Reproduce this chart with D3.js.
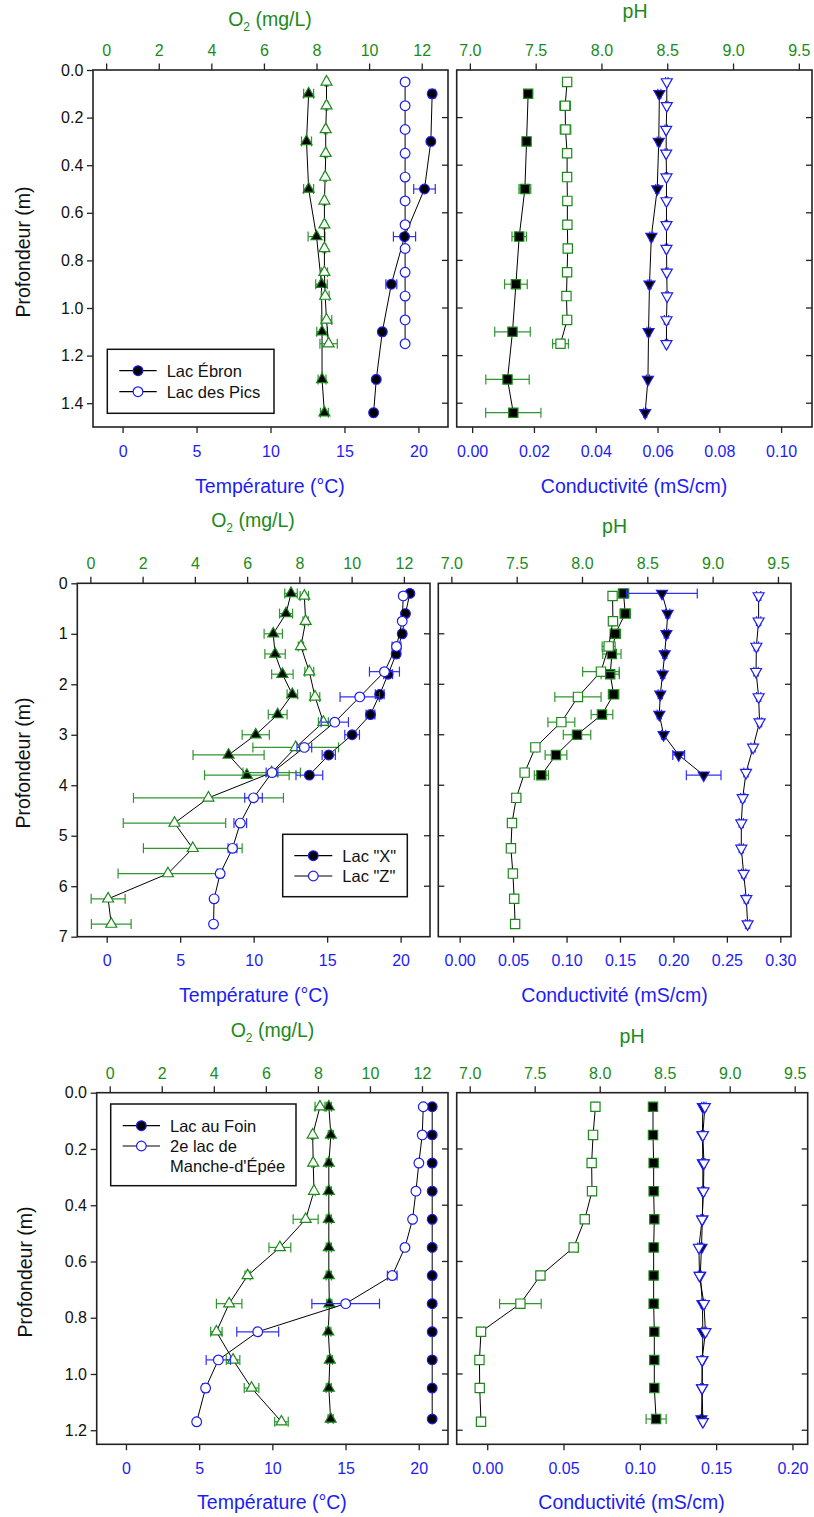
<!DOCTYPE html>
<html><head><meta charset="utf-8">
<script src="https://cdn.jsdelivr.net/npm/d3@7"></script>
<style>
body{margin:0;background:#fff}
svg{display:block}
text{font-family:"Liberation Sans",Arial,Helvetica,sans-serif}
</style>
</head><body>
<svg id="c" width="814" height="1517"></svg>
<script>
// ---------------- DATA ----------------
// Row 1 : Lac Ébron (A) / Lac des Pics (B)
const p1_depthA = [0.1,0.3,0.5,0.7,0.9,1.1,1.3,1.44];
const p1_depthB = [0.05,0.15,0.25,0.35,0.45,0.55,0.65,0.75,0.85,0.95,1.05,1.15];
const p1_tempA = [20.93,20.84,20.41,19.06,18.17,17.56,17.15,16.97];
const p1_tempA_err = [0.2,0.15,0.73,0.75,0.37,0.15,0.15,0.15];
const p1_tempB = [19.1,19.1,19.1,19.1,19.1,19.1,19.1,19.1,19.1,19.1,19.1,19.1];
const p1_tempB_err = [0,0,0,0,0,0,0,0,0,0,0,0];
const p1_o2A = [7.70,7.62,7.70,8.00,8.19,8.21,8.21,8.30];
const p1_o2A_err = [0.19,0.19,0.19,0.32,0.22,0.2,0.15,0.15];
const p1_o2B = [8.38,8.38,8.35,8.35,8.33,8.30,8.30,8.30,8.30,8.33,8.38,8.46];
const p1_o2B_err = [0.05,0.05,0.05,0.05,0.05,0.05,0.05,0.05,0.12,0.15,0.2,0.33];
const p1_phA = [7.443,7.431,7.418,7.375,7.350,7.324,7.286,7.33];
const p1_phA_err = [0.02,0.02,0.045,0.055,0.086,0.135,0.165,0.21];
const p1_phB = [7.739,7.724,7.727,7.739,7.739,7.741,7.741,7.744,7.739,7.734,7.739,7.689];
const p1_phB_err = [0.01,0.04,0.04,0.01,0.01,0.01,0.01,0.01,0.01,0.01,0.01,0.06];
const p1_condA = [0.0606,0.0604,0.0599,0.0580,0.0574,0.0571,0.0569,0.0560];
const p1_condA_err = [0.0005,0.0005,0.0005,0.0005,0.0005,0.0005,0.0005,0.0005];
const p1_condB = [0.0630,0.0630,0.0628,0.0628,0.0629,0.0629,0.0629,0.0629,0.0630,0.0631,0.0629,0.0629];
const p1_condB_err = [0.0004,0.0004,0.0004,0.0004,0.0004,0.0004,0.0004,0.0004,0.0004,0.0004,0.0007,0.0004];

// Row 2 : Lac "X" (A) / Lac "Z" (B)
const p2_depthA = [0.2,0.6,1.0,1.4,1.8,2.2,2.6,3.0,3.4,3.8];
const p2_depthB = [0.25,0.75,1.25,1.75,2.25,2.75,3.25,3.75,4.25,4.75,5.25,5.75,6.25,6.75];
const p2_tempA = [20.63,20.33,20.11,19.70,19.15,18.58,17.95,16.70,15.11,13.79];
const p2_tempA_err = [0.1,0.1,0.15,0.2,0.3,0.3,0.3,0.5,0.45,0.91];
const p2_tempB = [20.18,20.11,19.72,18.90,17.22,15.52,13.45,11.25,9.99,9.09,8.56,7.72,7.31,7.27];
const p2_tempB_err = [0.1,0.1,0.3,1.02,1.34,0.93,0.5,0.4,0.6,0.43,0.3,0.2,0.1,0.1];
const p2_o2A = [7.68,7.49,7.00,7.07,7.35,7.73,7.17,6.33,5.29,5.99];
const p2_o2A_err = [0.24,0.25,0.35,0.39,0.41,0.2,0.36,0.52,1.36,1.62];
const p2_o2B = [8.19,8.24,8.06,8.38,8.60,8.92,7.86,6.94,4.52,3.22,3.92,2.97,0.68,0.80];
const p2_o2B_err = [0.16,0.1,0.1,0.17,0.18,0.19,1.64,1.1,2.87,1.96,1.89,1.91,0.65,0.76];
const p2_phA = [8.318,8.331,8.255,8.229,8.216,8.242,8.153,7.962,7.801,7.689];
const p2_phA_err = [0.04,0.04,0.04,0.07,0.07,0.04,0.083,0.105,0.083,0.054];
const p2_phB = [8.234,8.237,8.204,8.145,7.969,7.842,7.643,7.561,7.497,7.464,7.456,7.471,7.481,7.488];
const p2_phB_err = [0.01,0.01,0.05,0.14,0.177,0.103,0.01,0.01,0.03,0.01,0.01,0.01,0.01,0.01];
const p2_condA = [0.1893,0.1946,0.1934,0.1918,0.1899,0.1877,0.1868,0.1908,0.2049,0.2283];
const p2_condA_err = [0.033,0.002,0.002,0.002,0.002,0.002,0.002,0.002,0.0055,0.0162];
const p2_condB = [0.2797,0.2797,0.2776,0.2773,0.2797,0.2806,0.2745,0.2679,0.2648,0.2635,0.2635,0.2657,0.2682,0.2694];
const p2_condB_err = [0.002,0.002,0.002,0.002,0.002,0.002,0.002,0.002,0.002,0.002,0.002,0.002,0.002,0.002];

// Row 3 : Lac au Foin (A) / 2e lac de Manche-d'Épée (B)
const p3_depthA = [0.05,0.15,0.25,0.35,0.45,0.55,0.65,0.75,0.85,0.95,1.05,1.16];
const p3_depthB = [0.05,0.15,0.25,0.35,0.45,0.55,0.65,0.75,0.85,0.95,1.05,1.17];
const p3_tempA = [20.92,20.92,20.92,20.92,20.92,20.92,20.92,20.92,20.92,20.92,20.92,20.92];
const p3_tempA_err = [0.1,0.1,0.1,0.1,0.1,0.1,0.1,0.1,0.1,0.1,0.1,0.1];
const p3_tempB = [20.31,20.24,20.01,19.81,19.58,19.06,18.19,15.01,9.00,6.31,5.44,4.83];
const p3_tempB_err = [0.1,0.1,0.1,0.1,0.1,0.1,0.33,2.31,1.43,0.83,0.2,0.1];
const p3_o2A = [8.42,8.50,8.42,8.42,8.42,8.42,8.42,8.44,8.40,8.46,8.42,8.49];
const p3_o2A_err = [0.1,0.1,0.1,0.1,0.1,0.1,0.1,0.1,0.1,0.1,0.1,0.1];
const p3_o2B = [8.08,7.80,7.82,7.85,7.53,6.54,5.30,4.59,4.10,4.74,5.45,6.60];
const p3_o2B_err = [0.19,0.05,0.05,0.05,0.48,0.42,0.1,0.49,0.22,0.26,0.28,0.26];
const p3_phA = [8.41,8.41,8.415,8.415,8.42,8.415,8.415,8.415,8.42,8.42,8.42,8.434];
const p3_phA_err = [0.01,0.01,0.01,0.01,0.01,0.01,0.01,0.01,0.01,0.01,0.01,0.077];
const p3_phB = [7.967,7.949,7.938,7.941,7.885,7.800,7.544,7.390,7.087,7.075,7.077,7.087];
const p3_phB_err = [0.01,0.01,0.01,0.01,0.03,0.03,0.01,0.16,0.02,0.01,0.01,0.01];
const p3_condA = [0.1413,0.1410,0.1413,0.1413,0.1410,0.1404,0.1396,0.1410,0.1413,0.1410,0.1408,0.1404];
const p3_condA_err = [0.0008,0.0008,0.0008,0.0008,0.0008,0.0008,0.0008,0.0008,0.0008,0.0008,0.0008,0.0008];
const p3_condB = [0.1426,0.1413,0.1420,0.1417,0.1408,0.1387,0.1391,0.1420,0.1430,0.1408,0.1408,0.1413];
const p3_condB_err = [0.0008,0.0008,0.0008,0.0008,0.0008,0.0008,0.0008,0.0008,0.0008,0.0008,0.0008,0.0008];

// tick labels
const o2Ticks = [0,2,4,6,8,10,12];
const tempTicks = [0,5,10,15,20];
const phTicks = [7.0,7.5,8.0,8.5,9.0,9.5];
const cond1Ticks = [0,0.02,0.04,0.06,0.08,0.10];
const cond2Ticks = [0,0.05,0.10,0.15,0.20,0.25,0.30];
const cond3Ticks = [0,0.05,0.10,0.15,0.20];
const depth1Ticks = [0,0.2,0.4,0.6,0.8,1.0,1.2,1.4];
const depth2Ticks = [0,1,2,3,4,5,6,7];
const depth3Ticks = [0,0.2,0.4,0.6,0.8,1.0,1.2];
const legend1 = ["Lac Ébron","Lac des Pics"];
const legend2 = ["Lac \"X\"","Lac \"Z\""];
const legend3 = ["Lac au Foin","2e lac de|Manche-d'Épée"];

// ---------------- DRAWING ----------------
const GREEN = "#1b8a1b", BLUE = "#1c1cf5", FRAME = "#222";
const GREEN_EB = "#2f952f", BLUE_EB = "#3030f5";
const svg = d3.select("#c");

function drawSymbol(g, shape, x, y, fill, stroke) {
  let type, size, rot = 0;
  if (shape === "circle") { type = d3.symbolCircle; size = 74; }
  else if (shape === "tri") { type = d3.symbolTriangle; size = 52; }
  else if (shape === "dtri") { type = d3.symbolTriangle; size = 52; rot = 180; }
  else { type = d3.symbolSquare; size = 86; }
  g.append("path").attr("d", d3.symbol().type(type).size(size)())
    .attr("transform", `translate(${x},${y}) rotate(${rot})`)
    .attr("fill", fill).attr("stroke", stroke).attr("stroke-width", 1.2);
}

function panel(c) {
  const g = svg.append("g");
  const y = d3.scaleLinear().domain(c.yDomain).range([c.y0, c.y1]);
  const xt = d3.scaleLinear().domain(c.topDomain).range([c.x0, c.x1]);
  const xb = d3.scaleLinear().domain(c.botDomain).range([c.x0, c.x1]);

  const at = g.append("g").attr("transform", `translate(0,${c.y0})`)
    .call(d3.axisTop(xt).tickValues(c.topTicks).tickFormat(d3.format(c.topFmt)).tickSize(6.5).tickPadding(7.5));
  const ab = g.append("g").attr("transform", `translate(0,${c.y1})`)
    .call(d3.axisBottom(xb).tickValues(c.botTicks).tickFormat(d3.format(c.botFmt)).tickSize(6).tickPadding(12.3));
  [at, ab].forEach(a => { a.select(".domain").remove(); a.selectAll("line").attr("stroke", FRAME).attr("stroke-width", 1.3); });
  at.selectAll("text").attr("fill", GREEN).attr("font-size", 16).attr("font-family", "Liberation Sans, Arial, sans-serif");
  ab.selectAll("text").attr("fill", BLUE).attr("font-size", 16).attr("font-family", "Liberation Sans, Arial, sans-serif");

  const inner = c.yTicks.filter(t => t > c.yDomain[0] && t < c.yDomain[1]);
  if (c.yLabels) {
    const al = g.append("g").attr("transform", `translate(${c.x0},0)`)
      .call(d3.axisLeft(y).tickValues(c.yTicks).tickFormat(d3.format(c.yFmt)).tickSize(6).tickPadding(3.7));
    al.select(".domain").remove();
    al.selectAll("line").attr("stroke", FRAME).attr("stroke-width", 1.3);
    al.selectAll("text").attr("fill", "#111").attr("font-size", 16).attr("font-family", "Liberation Sans, Arial, sans-serif");
  } else {
    g.append("g").selectAll("line").data(inner).join("line")
      .attr("x1", c.x0).attr("x2", c.x0 + 6).attr("y1", d => y(d)).attr("y2", d => y(d))
      .attr("stroke", FRAME).attr("stroke-width", 1.3);
  }
  g.append("g").selectAll("line").data(inner).join("line")
    .attr("x1", c.x1 - 6).attr("x2", c.x1).attr("y1", d => y(d)).attr("y2", d => y(d))
    .attr("stroke", FRAME).attr("stroke-width", 1.3);

  g.append("rect").attr("x", c.x0).attr("y", c.y0).attr("width", c.x1 - c.x0).attr("height", c.y1 - c.y0)
    .attr("fill", "none").attr("stroke", FRAME).attr("stroke-width", 1.6);

  c.series.forEach(s => {
    const xs = s.axis === "top" ? xt : xb;
    const pts = s.d.map((d, i) => ({ d, v: s.v[i], e: s.e[i] }));
    const sg = g.append("g");
    sg.append("path").datum(pts)
      .attr("d", d3.line().x(p => xs(p.v)).y(p => y(p.d)))
      .attr("fill", "none").attr("stroke", "#000").attr("stroke-width", 1);
    pts.forEach(p => {
      if (p.e > 0) {
        const xa = xs(p.v - p.e), xz = xs(p.v + p.e), yy = y(p.d);
        sg.append("line").attr("x1", xa).attr("x2", xz).attr("y1", yy).attr("y2", yy).attr("stroke", s.eb).attr("stroke-width", 1.2);
        [xa, xz].forEach(xx => sg.append("line").attr("x1", xx).attr("x2", xx).attr("y1", yy - 5).attr("y2", yy + 5).attr("stroke", s.eb).attr("stroke-width", 1.2));
      }
    });
    pts.forEach(p => drawSymbol(sg, s.shape, xs(p.v), y(p.d), s.fill, s.stroke));
  });
}

function title(x, y, txt, color, sub) {
  const t = svg.append("text").attr("x", x).attr("y", y).attr("text-anchor", "middle")
    .attr("font-size", 19.5).attr("fill", color);
  if (sub) {
    t.append("tspan").text("O");
    t.append("tspan").text("2").attr("font-size", 12).attr("dy", 5);
    t.append("tspan").text(" (mg/L)").attr("dy", -5);
  } else t.text(txt);
}
function ytitle(x, y) {
  svg.append("text").attr("transform", `translate(${x},${y}) rotate(-90)`).attr("text-anchor", "middle")
    .attr("font-size", 19.5).attr("fill", "#111").text("Profondeur (m)");
}
function legend(bx, by, bw, bh, lx0, lx1, rows, labels) {
  const g = svg.append("g");
  g.append("rect").attr("x", bx).attr("y", by).attr("width", bw).attr("height", bh)
    .attr("fill", "#fff").attr("stroke", "#111").attr("stroke-width", 1.5);
  labels.forEach((lab, i) => {
    const yy = rows[i];
    g.append("line").attr("x1", lx0).attr("x2", lx1).attr("y1", yy).attr("y2", yy).attr("stroke", "#000").attr("stroke-width", 1.2);
    drawSymbol(g, "circle", (lx0 + lx1) / 2, yy, i === 0 ? "#000" : "#fff", BLUE);
    lab.split("|").forEach((p, k) => g.append("text").attr("x", lx1 + 10).attr("y", yy + 6 + k * 19.5)
      .attr("font-size", 16.5).attr("fill", "#111").text(p));
  });
}

const fill = (shape, ec, eb) => ({ shape, fill: "#000", stroke: ec, eb });
const open = (shape, ec, eb) => ({ shape, fill: "#fff", stroke: ec, eb });

// Row 1
panel({ x0: 93, x1: 448, y0: 70, y1: 427, yDomain: [0, 1.5], yTicks: depth1Ticks, yFmt: ".1f", yLabels: true,
  topDomain: [-0.5, 13], topTicks: o2Ticks, topFmt: "d", botDomain: [-2, 22], botTicks: tempTicks, botFmt: "d",
  series: [
    Object.assign({ d: p1_depthA, v: p1_o2A, e: p1_o2A_err, axis: "top" }, fill("tri", GREEN, GREEN_EB)),
    Object.assign({ d: p1_depthB, v: p1_o2B, e: p1_o2B_err, axis: "top" }, open("tri", GREEN, GREEN_EB)),
    Object.assign({ d: p1_depthA, v: p1_tempA, e: p1_tempA_err, axis: "bot" }, fill("circle", BLUE, BLUE_EB)),
    Object.assign({ d: p1_depthB, v: p1_tempB, e: p1_tempB_err, axis: "bot" }, open("circle", BLUE, BLUE_EB)),
  ] });
panel({ x0: 456.7, x1: 812, y0: 70, y1: 427, yDomain: [0, 1.5], yTicks: depth1Ticks, yLabels: false,
  topDomain: [6.9, 9.6], topTicks: phTicks, topFmt: ".1f", botDomain: [-0.005, 0.11], botTicks: cond1Ticks, botFmt: ".2f",
  series: [
    Object.assign({ d: p1_depthA, v: p1_phA, e: p1_phA_err, axis: "top" }, fill("square", GREEN, GREEN_EB)),
    Object.assign({ d: p1_depthB, v: p1_phB, e: p1_phB_err, axis: "top" }, open("square", GREEN, GREEN_EB)),
    Object.assign({ d: p1_depthA, v: p1_condA, e: p1_condA_err, axis: "bot" }, fill("dtri", BLUE, BLUE_EB)),
    Object.assign({ d: p1_depthB, v: p1_condB, e: p1_condB_err, axis: "bot" }, open("dtri", BLUE, BLUE_EB)),
  ] });
title(270, 26, "", GREEN, true);
title(635, 18, "pH", GREEN);
title(270, 492.7, "Température (°C)", BLUE);
title(634, 492.7, "Conductivité (mS/cm)", BLUE);
ytitle(30, 252);
legend(107.3, 349.3, 166.7, 64, 119.3, 156.7, [370.7, 391.7], legend1);

// Row 2
panel({ x0: 77.3, x1: 430, y0: 583.3, y1: 936.7, yDomain: [0, 7], yTicks: depth2Ticks, yFmt: "d", yLabels: true,
  topDomain: [-0.5, 13], topTicks: o2Ticks, topFmt: "d", botDomain: [-2, 22], botTicks: tempTicks, botFmt: "d",
  series: [
    Object.assign({ d: p2_depthA, v: p2_o2A, e: p2_o2A_err, axis: "top" }, fill("tri", GREEN, GREEN_EB)),
    Object.assign({ d: p2_depthB, v: p2_o2B, e: p2_o2B_err, axis: "top" }, open("tri", GREEN, GREEN_EB)),
    Object.assign({ d: p2_depthA, v: p2_tempA, e: p2_tempA_err, axis: "bot" }, fill("circle", BLUE, BLUE_EB)),
    Object.assign({ d: p2_depthB, v: p2_tempB, e: p2_tempB_err, axis: "bot" }, open("circle", BLUE, BLUE_EB)),
  ] });
panel({ x0: 438.3, x1: 791, y0: 583.3, y1: 936.7, yDomain: [0, 7], yTicks: depth2Ticks, yLabels: false,
  topDomain: [6.9, 9.6], topTicks: phTicks, topFmt: ".1f", botDomain: [-0.02, 0.31], botTicks: cond2Ticks, botFmt: ".2f",
  series: [
    Object.assign({ d: p2_depthA, v: p2_phA, e: p2_phA_err, axis: "top" }, fill("square", GREEN, GREEN_EB)),
    Object.assign({ d: p2_depthB, v: p2_phB, e: p2_phB_err, axis: "top" }, open("square", GREEN, GREEN_EB)),
    Object.assign({ d: p2_depthA, v: p2_condA, e: p2_condA_err, axis: "bot" }, fill("dtri", BLUE, BLUE_EB)),
    Object.assign({ d: p2_depthB, v: p2_condB, e: p2_condB_err, axis: "bot" }, open("dtri", BLUE, BLUE_EB)),
  ] });
title(253, 526.7, "", GREEN, true);
title(614.5, 533.3, "pH", GREEN);
title(254, 1001.7, "Température (°C)", BLUE);
title(614.5, 1001.7, "Conductivité (mS/cm)", BLUE);
ytitle(30, 763);
legend(282.7, 834.3, 124.6, 62.4, 294.3, 332.3, [855.7, 876], legend2);

// Row 3
panel({ x0: 96.7, x1: 448, y0: 1092.7, y1: 1444.3, yDomain: [0, 1.25], yTicks: depth3Ticks, yFmt: ".1f", yLabels: true,
  topDomain: [-0.5, 13], topTicks: o2Ticks, topFmt: "d", botDomain: [-2, 22], botTicks: tempTicks, botFmt: "d",
  series: [
    Object.assign({ d: p3_depthA, v: p3_o2A, e: p3_o2A_err, axis: "top" }, fill("tri", GREEN, GREEN_EB)),
    Object.assign({ d: p3_depthB, v: p3_o2B, e: p3_o2B_err, axis: "top" }, open("tri", GREEN, GREEN_EB)),
    Object.assign({ d: p3_depthA, v: p3_tempA, e: p3_tempA_err, axis: "bot" }, fill("circle", BLUE, BLUE_EB)),
    Object.assign({ d: p3_depthB, v: p3_tempB, e: p3_tempB_err, axis: "bot" }, open("circle", BLUE, BLUE_EB)),
  ] });
panel({ x0: 456.7, x1: 807.7, y0: 1092.7, y1: 1444.3, yDomain: [0, 1.25], yTicks: depth3Ticks, yLabels: false,
  topDomain: [6.9, 9.6], topTicks: phTicks, topFmt: ".1f", botDomain: [-0.02, 0.21], botTicks: cond3Ticks, botFmt: ".2f",
  series: [
    Object.assign({ d: p3_depthA, v: p3_phA, e: p3_phA_err, axis: "top" }, fill("square", GREEN, GREEN_EB)),
    Object.assign({ d: p3_depthB, v: p3_phB, e: p3_phB_err, axis: "top" }, open("square", GREEN, GREEN_EB)),
    Object.assign({ d: p3_depthA, v: p3_condA, e: p3_condA_err, axis: "bot" }, fill("dtri", BLUE, BLUE_EB)),
    Object.assign({ d: p3_depthB, v: p3_condB, e: p3_condB_err, axis: "bot" }, open("dtri", BLUE, BLUE_EB)),
  ] });
title(272.5, 1036.7, "", GREEN, true);
title(632, 1042.7, "pH", GREEN);
title(272, 1509.3, "Température (°C)", BLUE);
title(631.5, 1509.3, "Conductivité (mS/cm)", BLUE);
ytitle(32, 1272);
legend(110.7, 1104, 185.3, 81.7, 122.7, 160, [1125.7, 1146], legend3);
</script>
</body></html>
